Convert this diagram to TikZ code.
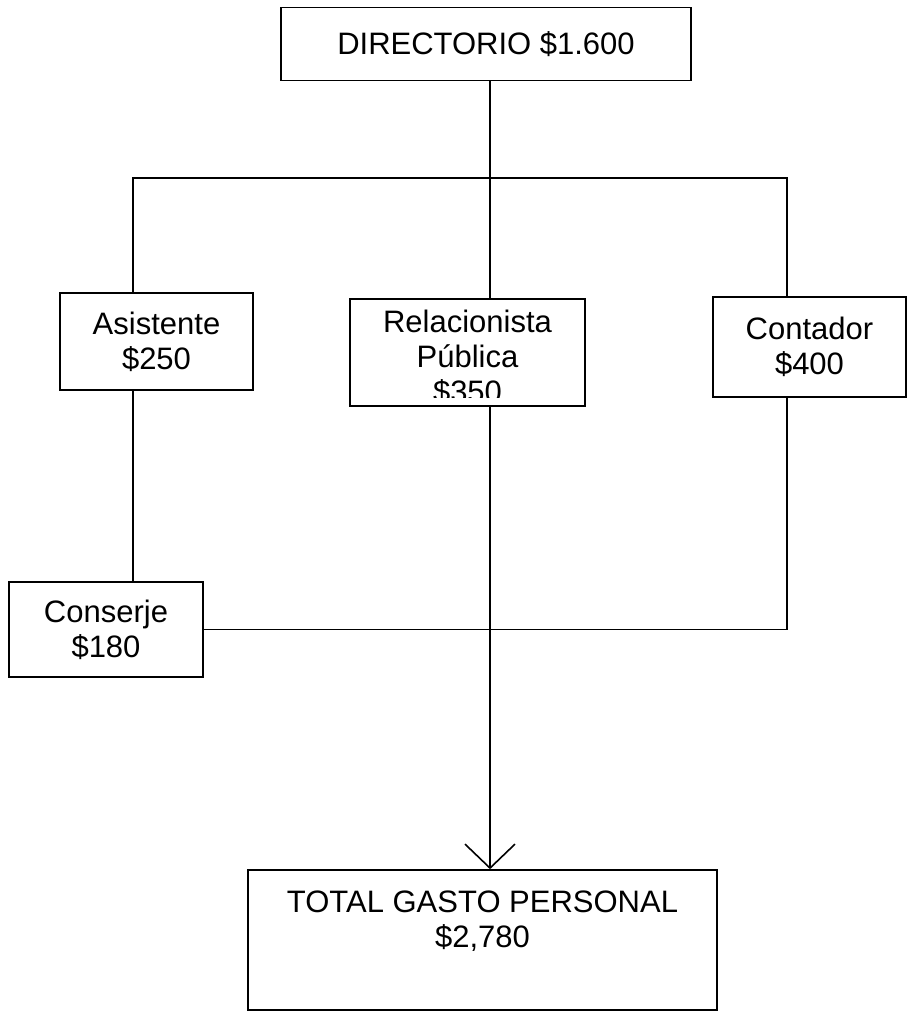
\documentclass[tikz,border=0pt]{standalone}
\usepackage{fontspec}
\setmainfont{Liberation Sans}
\usetikzlibrary{arrows.meta}

\begin{document}
\begin{tikzpicture}[
    x=1pt, y=-1pt,
    every node/.style={font=\fontsize{31}{35}\selectfont},
    box/.style={draw, line width=1.6pt, align=center, inner sep=0pt},
    link/.style={line width=1.6pt},
    arrow/.style={link, -{Straight Barb[length=24pt, width=50pt]}}
]
    \useasboundingbox (0,0) rectangle (910,1012);

    \node[box, minimum width=410, minimum height=73] (dir) at (486,44) {DIRECTORIO \$1.600};
    \node[box, minimum width=193, minimum height=97] (asis) at (156.5,341.5) {Asistente\\\$250};
    \node[box, minimum width=235, minimum height=107] (rel) at (467.5,352.5) {};
    \node[box, minimum width=193, minimum height=100] (cont) at (809.5,347) {Contador\\\$400};
    \node[box, minimum width=194, minimum height=95] (cons) at (106,629.5) {Conserje\\\$180};
    \node[box, minimum width=469, minimum height=140] (tot) at (482.5,940) {};
    \node[anchor=north, align=center, inner sep=0pt] (totlabel) at ([yshift=-21pt]tot.north) {TOTAL GASTO PERSONAL\\\$2,780};

    % text of the middle box runs past its lower edge and is cut
    \begin{scope}
        \clip (rel.north west) rectangle ([yshift=9pt]rel.south east);
        \node[align=center, inner sep=0pt] (reltext) at ([yshift=-5pt]rel.center) {Relacionista\\P\'ublica\\\$350};
    \end{scope}

    \coordinate (lbar) at (133,178);
    \coordinate (rbar) at (787,178);
    \coordinate (trunk) at (490,178);

    \draw[link] (dir.south -| trunk) -- (rel.north -| trunk);
    \draw[link] (asis.north -| lbar) |- (rbar) -- (cont.north -| rbar);
    \draw[link] (asis.south -| lbar) -- (cons.north -| lbar);
    \draw[link] (cons.east) -| (cont.south -| rbar);
    \draw[arrow] (rel.south -| trunk) -- (tot.north -| trunk);
\end{tikzpicture}
\end{document}
